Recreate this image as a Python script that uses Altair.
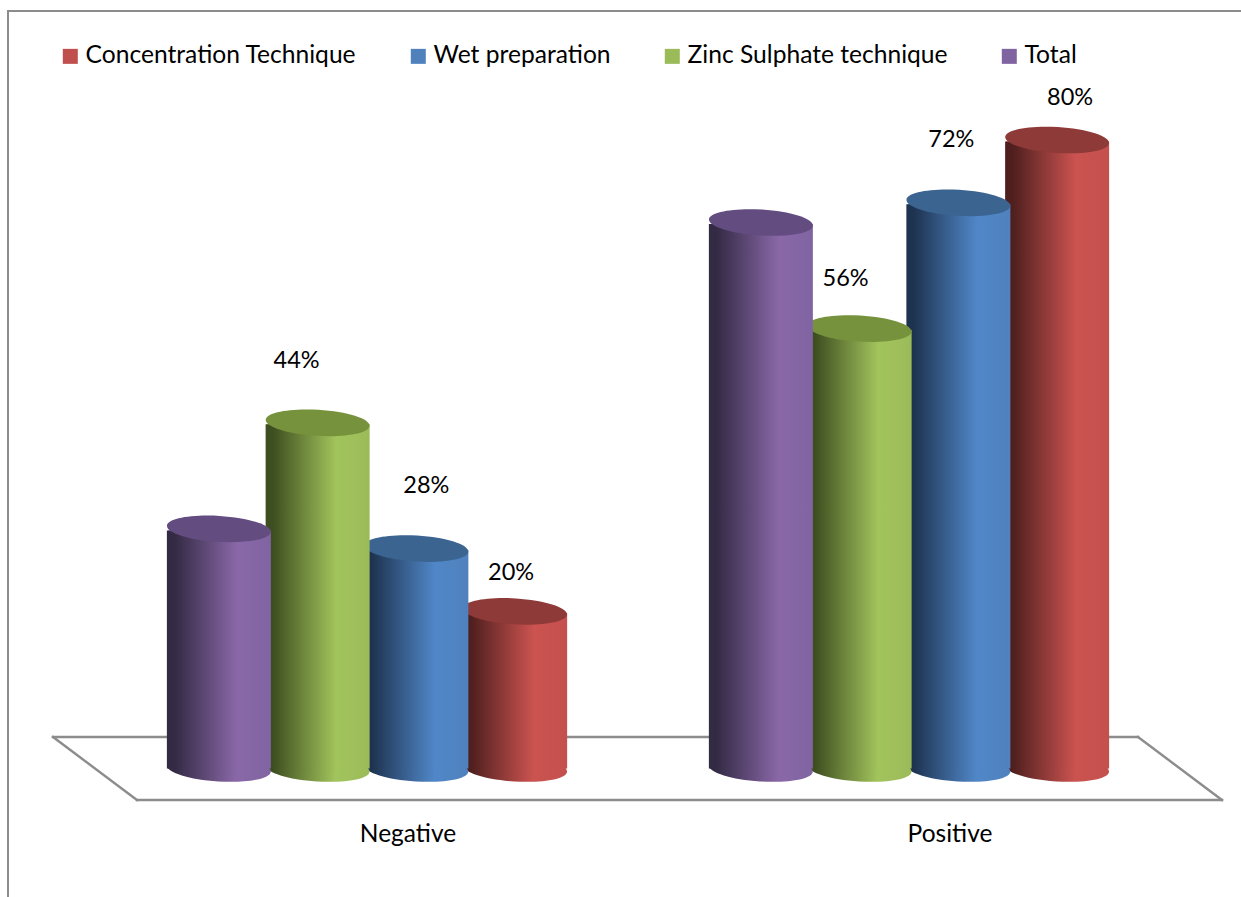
import altair as alt
import pandas as pd

# Share of samples per technique, in percent
groups = ["Negative", "Positive"]
methods = ["Concentration Technique", "Wet preparation", "Zinc Sulphate technique", "Total"]
concentration = [20, 80]
wet = [28, 72]
zinc = [44, 56]
total = [30.5, 69.5]

# Left-to-right seating of the cylinders inside each group
seating = ["Total", "Zinc Sulphate technique", "Wet preparation", "Concentration Technique"]

rows = []
for method, values in zip(methods, [concentration, wet, zinc, total]):
    for group, value in zip(groups, values):
        rows.append({"group": group, "method": method, "value": value, "base": 0, "label": f"{value:g}%"})
data = pd.DataFrame(rows)

# Styling per series: legend swatch, cylinder shading, lid colour
swatch = ["#c0504d", "#4f81bd", "#9bbb59", "#8064a2"]
shade = {
    "Concentration Technique": ("#4e1f1e", "#cb5350", "#c4504d"),
    "Wet preparation": ("#1e3350", "#5087c8", "#4f81bd"),
    "Zinc Sulphate technique": ("#3e4e20", "#a2c45c", "#9bbb59"),
    "Total": ("#332a44", "#8a68a8", "#8064a2"),
}
lid = {
    "Concentration Technique": "#8e3a38",
    "Wet preparation": "#3b6491",
    "Zinc Sulphate technique": "#76923c",
    "Total": "#634c80",
}

# Label nudges relative to the centre of each cylinder's lid
nudges = {
    ("Negative", "Zinc Sulphate technique"): (-21, -62),
    ("Negative", "Wet preparation"): (10, -63),
    ("Negative", "Concentration Technique"): (-4, -38),
    ("Positive", "Zinc Sulphate technique"): (-14, -50),
    ("Positive", "Wet preparation"): (-7, -63),
    ("Positive", "Concentration Technique"): (13, -42),
}

FONT = "Lato"
LEGEND_SIZE = 24.6
AXIS_SIZE = 24.5
VALUE_SIZE = 23.5
CYL_WIDTH = 104
ELLIPSE = "M-1,0A1,0.25 0 1 1 1,0A1,0.25 0 1 1 -1,0Z"
TILT = 3.5
SHIFT = 1.5

x_scale = alt.Scale(domain=groups, range=[169.5, 1106.5], paddingInner=0.2712, paddingOuter=0)
y_scale = alt.Scale(domain=[0, 80], range=[768.5, 140], nice=False, zero=False)
group_axis = alt.Axis(
    domain=False, ticks=False, grid=False, labelAngle=0, labelOffset=41,
    labelFont=FONT, labelFontSize=AXIS_SIZE, labelColor="#000000",
    labelPadding=0, offset=-75,
)
x_off = alt.XOffset("method:N", scale=alt.Scale(domain=seating))
x_group = alt.X("group:N", scale=x_scale, title=None, axis=group_axis)
y_val = alt.Y("value:Q", scale=y_scale, axis=None, stack=None)
y_base = alt.Y("base:Q", scale=y_scale, axis=None, stack=None)


def gradient(method):
    dark, bright, end = shade[method]
    return alt.Gradient(
        gradient="linear", x1=0, x2=1, y1=0, y2=0,
        stops=[
            alt.GradientStop(color=dark, offset=0),
            alt.GradientStop(color=dark, offset=0.07),
            alt.GradientStop(color=bright, offset=0.68),
            alt.GradientStop(color=end, offset=1),
        ],
    )


def edge(x1, y1, x2, y2, width=2.4):
    return alt.Chart().mark_rule(color="#8c8c8c", strokeWidth=width, strokeCap="square").encode(
        x=alt.value(x1), x2=alt.value(x2), y=alt.value(y1), y2=alt.value(y2)
    )


layers = [
    # Frame on the top and left
    edge(8, 11, 1241, 11, 2),
    edge(8, 11, 8, 897, 2),
    # Floor plane
    edge(53, 737, 1138, 737),
    edge(1138, 737, 1222, 800),
    edge(1222, 800, 137, 800),
    edge(137, 800, 53, 737),
]

# Flat bars beneath the shaded cylinders carry the legend
layers.append(
    alt.Chart(data).mark_bar(width=CYL_WIDTH - 2, yOffset=SHIFT).encode(
        x=x_group,
        xOffset=x_off,
        y=y_val,
        color=alt.Color(
            "method:N",
            scale=alt.Scale(domain=methods, range=swatch),
            legend=alt.Legend(
                title=None, orient="none", legendX=58, legendY=44, direction="horizontal",
                columns=4, columnPadding=49, symbolType="square", symbolSize=225,
                symbolStrokeWidth=0, labelOffset=3, labelFont=FONT, labelFontSize=LEGEND_SIZE,
                labelColor="#000000", labelLimit=400, padding=0,
            ),
        ),
    )
)

# Cylinders, drawn from the rear of the row to the front
for method in reversed(seating):
    subset = data[data["method"] == method]
    fill = gradient(method)
    layers.append(
        alt.Chart(subset).mark_point(
            shape=ELLIPSE, size=CYL_WIDTH**2, angle=TILT, filled=True, fill=fill, opacity=1, strokeWidth=0
        ).encode(x=x_group, xOffset=x_off, y=y_base)
    )
    layers.append(
        alt.Chart(subset).mark_bar(width=CYL_WIDTH, fill=fill, yOffset=SHIFT, y2Offset=SHIFT).encode(
            x=x_group, xOffset=x_off, y=y_val
        )
    )
    layers.append(
        alt.Chart(subset).mark_point(
            shape=ELLIPSE, size=CYL_WIDTH**2, angle=TILT, filled=True, fill=lid[method], opacity=1, strokeWidth=0
        ).encode(x=x_group, xOffset=x_off, y=y_val)
    )

# Percentage labels
for (group, method), (dx, dy) in nudges.items():
    one = data[(data["group"] == group) & (data["method"] == method)]
    layers.append(
        alt.Chart(one).mark_text(
            dx=dx, dy=dy, font=FONT, fontSize=VALUE_SIZE, color="#000000", baseline="middle"
        ).encode(x=x_group, xOffset=x_off, y=y_val, text="label:N")
    )

chart = alt.layer(*layers).properties(
    width=1241,
    height=897,
    padding=0,
    autosize=alt.AutoSizeParams(type="none"),
    background="#ffffff",
).configure_view(stroke=None)

chart.save("out.html", embed_options={"renderer": "svg", "actions": False})
